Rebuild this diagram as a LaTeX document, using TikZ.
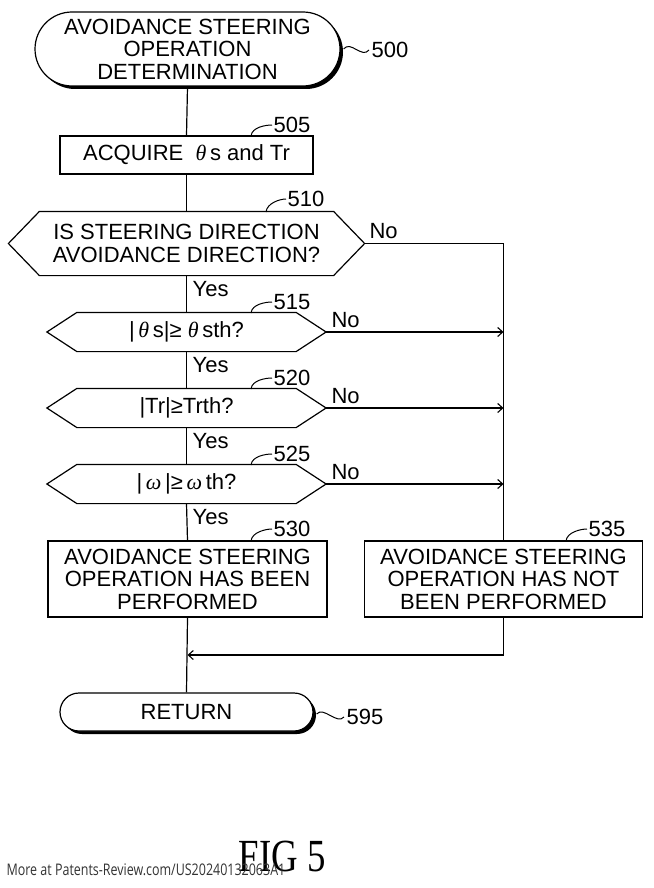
\documentclass[tikz,border=0pt]{standalone}
\usepackage{fontspec}
\setmainfont{Liberation Sans}
\newfontfamily\serifit{Liberation Serif}[ItalicFont={Liberation Serif Italic}]
\newfontfamily\figfont{Liberation Serif}
\newfontfamily\wmfont{Open Sans}
\usetikzlibrary{arrows.meta,calc,shadows}
\newcommand{\gth}{{\serifit\itshape θ}}
\newcommand{\gom}{{\serifit\itshape ω}}
\begin{document}
\begin{tikzpicture}[x=1pt,y=-1pt,line width=1.2pt,
  every node/.style={font=\fontsize{22}{22.5}\selectfont,inner sep=0pt},
  procbox/.style={draw,fill=white,align=center},
  hexbody/.style={align=center,minimum height=38pt},
  term/.style={draw,fill=white,align=center,
     drop shadow={shadow xshift=3pt,shadow yshift=-3pt,fill=black,opacity=1}},
  lbl/.style={anchor=west},
  refline/.style={line width=1pt},
  arr/.style={-{Straight Barb[length=5pt,width=9pt,line width=1.1pt]}}]
\useasboundingbox (0,0) rectangle (653,888);

% terminals
\node[term,minimum width=305pt,minimum height=74pt,rounded corners=37pt] (start) at (187.5,49)
  {AVOIDANCE STEERING\\OPERATION\\DETERMINATION};
\node[term,minimum width=253pt,minimum height=38pt,rounded corners=19pt] (ret) at (186.5,712) {RETURN};

% process boxes
\node[procbox,minimum width=253pt,minimum height=38pt] (b505) at (186.5,155) {ACQUIRE \ \gth\,s and Tr};
\node[procbox,minimum width=279pt,minimum height=76pt] (b530) at (187.5,579)
  {AVOIDANCE STEERING\\OPERATION HAS BEEN\\PERFORMED};
\node[procbox,minimum width=278pt,minimum height=76pt] (b535) at (503.5,579)
  {AVOIDANCE STEERING\\OPERATION HAS NOT\\BEEN PERFORMED};

% decision bodies
\node[hexbody,minimum width=293pt,minimum height=63pt] (d510) at (186.5,243.5)
  {IS STEERING DIRECTION\\AVOIDANCE DIRECTION?};
\node[hexbody,minimum width=218pt] (d515) at (186.5,332) {|\,\gth\,s|≥ \gth\,sth?};
\node[hexbody,minimum width=218pt] (d520) at (186.5,408) {|Tr|≥Trth?};
\node[hexbody,minimum width=218pt] (d525) at (186.5,484) {|\,\gom\,|≥\,\gom\,th?};

\foreach \n/\e in {d510/31,d515/30,d520/30,d525/30}{
  \coordinate (\n-l) at ($(\n.west)+(-\e,0)$);
  \coordinate (\n-r) at ($(\n.east)+(\e,0)$);
  \draw (\n-l) -- (\n.north west) -- (\n.north east) -- (\n-r) -- (\n.south east) -- (\n.south west) -- cycle;
}

% main flow
\draw (start.south) -- (b505.north);
\draw (b505.south) -- (d510.north);
\draw (d510.south) -- (d515.north);
\draw (d515.south) -- (d520.north);
\draw (d520.south) -- (d525.north);
\draw (d525.south) -- (b530.north);
\draw (b530.south) -- (ret.north);

% No branches
\draw (d510-r) -| (b535.north);
\draw[arr] (d515-r) -- (d515-r -| b535.north);
\draw[arr] (d520-r) -- (d520-r -| b535.north);
\draw[arr] (d525-r) -- (d525-r -| b535.north);

% merge
\coordinate (mrow) at (0,655);
\coordinate (merge) at (b530.south |- mrow);
\draw[arr] (b535.south) |- (merge);

% Yes / No labels
\node[lbl] (y510) at (192,289) {Yes};
\node[lbl] (y515) at (192,365) {Yes};
\node[lbl] (y520) at (192,441) {Yes};
\node[lbl] (y525) at (192,517) {Yes};
\node[lbl] (n510) at (369,231) {No};
\node[lbl] (n515) at (331,320) {No};
\node[lbl] (n520) at (331,396) {No};
\node[lbl] (n525) at (331,472) {No};

% reference numerals
\node[lbl] (r500) at (371,50) {500};
\draw[refline] ($(start.east)+(3,0)$) .. controls +(7,-9) and +(-7,9) .. ($(r500.west)+(-2,0)$);
\node[lbl] (r595) at (346,717) {595};
\draw[refline] ($(ret.east)+(3,2)$) .. controls +(7,-8) and +(-7,8) .. ($(r595.west)+(-2,0)$);

\node[lbl] (r505) at (273,125) {505};
\node[lbl] (r510) at (287,199) {510};
\node[lbl] (r515) at (273,302) {515};
\node[lbl] (r520) at (273,378) {520};
\node[lbl] (r525) at (273,454) {525};
\node[lbl] (r530) at (273,529) {530};
\node[lbl] (r535) at (588,529) {535};
\coordinate (c505) at (251,136);
\coordinate (c510) at (266,212);
\coordinate (c515) at (251,313);
\coordinate (c520) at (251,389);
\coordinate (c525) at (251,465);
\coordinate (c530) at (251,541);
\coordinate (c535) at (566,541);
\foreach \c/\r in {c505/r505,c510/r510,c515/r515,c520/r520,c525/r525,c530/r530,c535/r535}{
  \draw[refline] (\c) .. controls +(1,-9) and +(-6,0) .. ($(\r.west)+(-1,0)$);
}

% caption and footer
\node (fig) at (282,856) {\figfont\fontsize{46}{46}\selectfont\scalebox{0.8}[1]{FIG 5}};
\node[anchor=west,text=black!80] (wm) at (6,870) {\wmfont\fontsize{16}{16}\selectfont\scalebox{0.78}[1]{More at Patents-Review.com/US20240132063A1}};
\end{tikzpicture}
\end{document}
